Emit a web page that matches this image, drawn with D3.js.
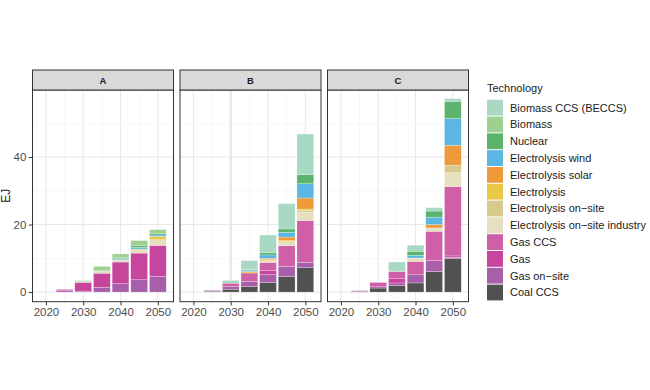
<!DOCTYPE html>
<html>
<head>
<meta charset="utf-8">
<script src="https://cdn.jsdelivr.net/npm/d3@7"></script>
<style>
  body { margin: 0; background: #fff; }
  svg text { font-family: "Liberation Sans", Arial, sans-serif; }
</style>
</head>
<body>
<svg id="chart" width="650" height="390"></svg>
<script>
// ######## data ########
const years = [2025, 2030, 2035, 2040, 2045, 2050];
const scenarios = ["A", "B", "C"];
const technologies = ["Biomass CCS (BECCS)", "Biomass", "Nuclear", "Electrolysis wind",
  "Electrolysis solar", "Electrolysis", "Electrolysis on\u2212site",
  "Electrolysis on\u2212site industry", "Gas CCS", "Gas", "Gas on\u2212site", "Coal CCS"];
const techColors = ["#a9d8c3", "#9fd08f", "#5cb46c", "#5bb6e4", "#ee9a3a", "#e8c846",
  "#d8c98c", "#e6dfc0", "#cf60a8", "#c7459d", "#a75fa9", "#515151"];

// one row per technology (legend order), one value per year, EJ
const valuesA = [
  [0, 0, 0, 0, 0, 0],
  [0, 0.3, 1.2, 1.0, 1.4, 1.2],
  [0, 0, 0.2, 0.4, 0.6, 0.4],
  [0, 0, 0, 0.3, 0.5, 0.4],
  [0, 0, 0, 0, 0, 0],
  [0, 0, 0, 0, 0.2, 1.0],
  [0, 0, 0, 0, 0, 0],
  [0, 0.2, 0.6, 0.7, 1.0, 1.7],
  [0, 0, 0, 0, 0, 0],
  [0.3, 2.6, 4.2, 6.4, 7.9, 9.2],
  [0.5, 0.3, 1.4, 2.5, 3.65, 4.6],
  [0, 0, 0, 0, 0, 0]
];
const valuesB = [
  [0, 0.8, 2.7, 5.2, 7.5, 12.05],
  [0, 0, 0, 0, 0, 0],
  [0, 0, 0.3, 0.7, 1.0, 2.65],
  [0, 0, 0.3, 1.0, 1.4, 4.25],
  [0, 0, 0, 0.4, 1.0, 3.25],
  [0, 0, 0.4, 0.25, 0.4, 0.4],
  [0, 0, 0, 0, 0, 0.6],
  [0, 0, 0, 0.6, 1.2, 2.4],
  [0, 1.0, 2.5, 2.4, 6.1, 12.4],
  [0, 0, 0, 1.2, 0, 0],
  [0.3, 0.8, 1.5, 2.3, 3.0, 1.5],
  [0.2, 0.85, 1.65, 2.85, 4.6, 7.3]
];
const valuesC = [
  [0, 0, 2.8, 1.8, 1.0, 0.8],
  [0, 0, 0, 0, 0, 0],
  [0, 0, 0, 1.2, 1.8, 5.1],
  [0, 0, 0, 0.8, 2.2, 7.9],
  [0, 0, 0, 0, 1.0, 5.9],
  [0, 0, 0, 0, 0, 0],
  [0, 0, 0, 0, 0, 2.2],
  [0, 0, 0, 1.0, 1.0, 4.2],
  [0, 1.3, 2.0, 4.0, 8.7, 20.5],
  [0, 0, 1.4, 0, 0, 0.4],
  [0.2, 0.35, 0.8, 2.4, 3.2, 0.4],
  [0.2, 1.2, 1.9, 2.7, 6.1, 9.9]
];
const xTicks = [2020, 2030, 2040, 2050];
const xMinor = [2025, 2035, 2045];
const yTicks = [0, 20, 40];
const yMinor = [10, 30, 50];

// ######## layout ########
const svg = d3.select("#chart");
const panelW = 141, panelGap = 6.5, panelLeft = 32.5;
const stripTop = 70, panelTop = 90, panelBottom = 301.7;
const barWidth = 4.5;

const x = d3.scaleLinear().domain([2016.4, 2054.2]).range([0, panelW]);
const y = d3.scaleLinear().domain([-2.85, 59.85]).range([panelBottom, panelTop]);
const color = d3.scaleOrdinal().domain(technologies).range(techColors);

// stack bottom-up: last technology in legend sits at the bottom
const stackKeys = technologies.slice().reverse();
const stack = d3.stack().keys(stackKeys);

function tableFor(values) {
  return years.map((yr, j) => {
    const row = { year: yr };
    technologies.forEach((t, i) => { row[t] = values[i][j]; });
    return row;
  });
}

const allValues = [valuesA, valuesB, valuesC];

scenarios.forEach((name, p) => {
  const left = panelLeft + p * (panelW + panelGap);
  const g = svg.append("g").attr("transform", `translate(${left},0)`);

  // panel background
  g.append("rect").attr("x", 0).attr("y", panelTop)
    .attr("width", panelW).attr("height", panelBottom - panelTop).attr("fill", "#fff");

  // minor grid
  g.selectAll(".ymin").data(yMinor).enter().append("line")
    .attr("x1", 0).attr("x2", panelW)
    .attr("y1", d => y(d)).attr("y2", d => y(d))
    .attr("stroke", "#f2f2f2").attr("stroke-width", 0.6);
  g.selectAll(".xmin").data(xMinor).enter().append("line")
    .attr("x1", d => x(d)).attr("x2", d => x(d))
    .attr("y1", panelTop).attr("y2", panelBottom)
    .attr("stroke", "#f2f2f2").attr("stroke-width", 0.6);
  // major grid (panel B has a heavier line at 2030 in the original)
  g.selectAll(".ymaj").data(yTicks).enter().append("line")
    .attr("x1", 0).attr("x2", panelW)
    .attr("y1", d => y(d)).attr("y2", d => y(d))
    .attr("stroke", "#e8e8e8").attr("stroke-width", 1);
  g.selectAll(".xmaj").data(xTicks).enter().append("line")
    .attr("x1", d => x(d)).attr("x2", d => x(d))
    .attr("y1", panelTop).attr("y2", panelBottom)
    .attr("stroke", "#e8e8e8")
    .attr("stroke-width", d => (name === "B" && d === 2030) ? 2.5 : 1);

  // bars
  const series = stack(tableFor(allValues[p]));
  g.selectAll(".layer").data(series).enter().append("g")
    .attr("fill", d => color(d.key))
    .selectAll("rect").data(d => d.filter(s => s[1] - s[0] > 0)).enter().append("rect")
      .attr("x", d => x(d.data.year - barWidth / 2))
      .attr("width", x(barWidth) - x(0))
      .attr("y", d => y(d[1]))
      .attr("height", d => y(d[0]) - y(d[1]))
      .attr("stroke", "#fff").attr("stroke-width", 0.35).attr("stroke-opacity", 0.7);

  // panel border
  g.append("rect").attr("x", 0).attr("y", panelTop)
    .attr("width", panelW).attr("height", panelBottom - panelTop)
    .attr("fill", "none").attr("stroke", "#333").attr("stroke-width", 1);

  // strip
  g.append("rect").attr("x", 0).attr("y", stripTop)
    .attr("width", panelW).attr("height", panelTop - stripTop)
    .attr("fill", "#d9d9d9").attr("stroke", "#333").attr("stroke-width", 1);
  g.append("text").attr("x", panelW / 2).attr("y", (stripTop + panelTop) / 2 + 3.5)
    .attr("text-anchor", "middle").attr("font-size", 9.5).attr("font-weight", "bold")
    .attr("fill", "#1a1a1a").text(name);

  // x axis
  const xAxis = g.append("g").attr("transform", `translate(0,${panelBottom})`)
    .call(d3.axisBottom(x).tickValues(xTicks).tickFormat(d3.format("d"))
      .tickSize(3.7).tickPadding(2.5));
  xAxis.select(".domain").remove();
  xAxis.selectAll(".tick line").attr("stroke", "#333");
  xAxis.selectAll(".tick text").attr("font-size", 11.5).attr("fill", "#4d4d4d")
    .attr("font-family", "Liberation Sans, Arial, sans-serif");

  // y axis only on first panel
  if (p === 0) {
    const yAxis = g.append("g")
      .call(d3.axisLeft(y).tickValues(yTicks).tickSize(3.7).tickPadding(2.5));
    yAxis.select(".domain").remove();
    yAxis.selectAll(".tick line").attr("stroke", "#333");
    yAxis.selectAll(".tick text").attr("font-size", 11.5).attr("fill", "#4d4d4d")
      .attr("font-family", "Liberation Sans, Arial, sans-serif");
  }
});

// y axis title
svg.append("text")
  .attr("transform", `translate(10,${(panelTop + panelBottom) / 2}) rotate(-90)`)
  .attr("text-anchor", "middle").attr("font-size", 12).attr("fill", "#1a1a1a").text("EJ");

// ######## legend ########
const legend = svg.append("g").attr("transform", "translate(487,0)");
legend.append("text").attr("x", 0).attr("y", 91.5)
  .attr("font-size", 11).attr("fill", "#1a1a1a").text("Technology");

const keyTop = 99.3, keyH = 16.8, keyW = 16;
const items = legend.selectAll(".item").data(technologies).enter().append("g")
  .attr("transform", (d, i) => `translate(0,${keyTop + i * keyH})`);
items.append("rect").attr("x", 0).attr("y", 0.5)
  .attr("width", keyW).attr("height", keyH - 1)
  .attr("fill", d => color(d));
items.append("text").attr("x", keyW + 7).attr("y", keyH / 2 + 4)
  .attr("font-size", 11).attr("fill", "#1a1a1a").text(d => d);
</script>
</body>
</html>
